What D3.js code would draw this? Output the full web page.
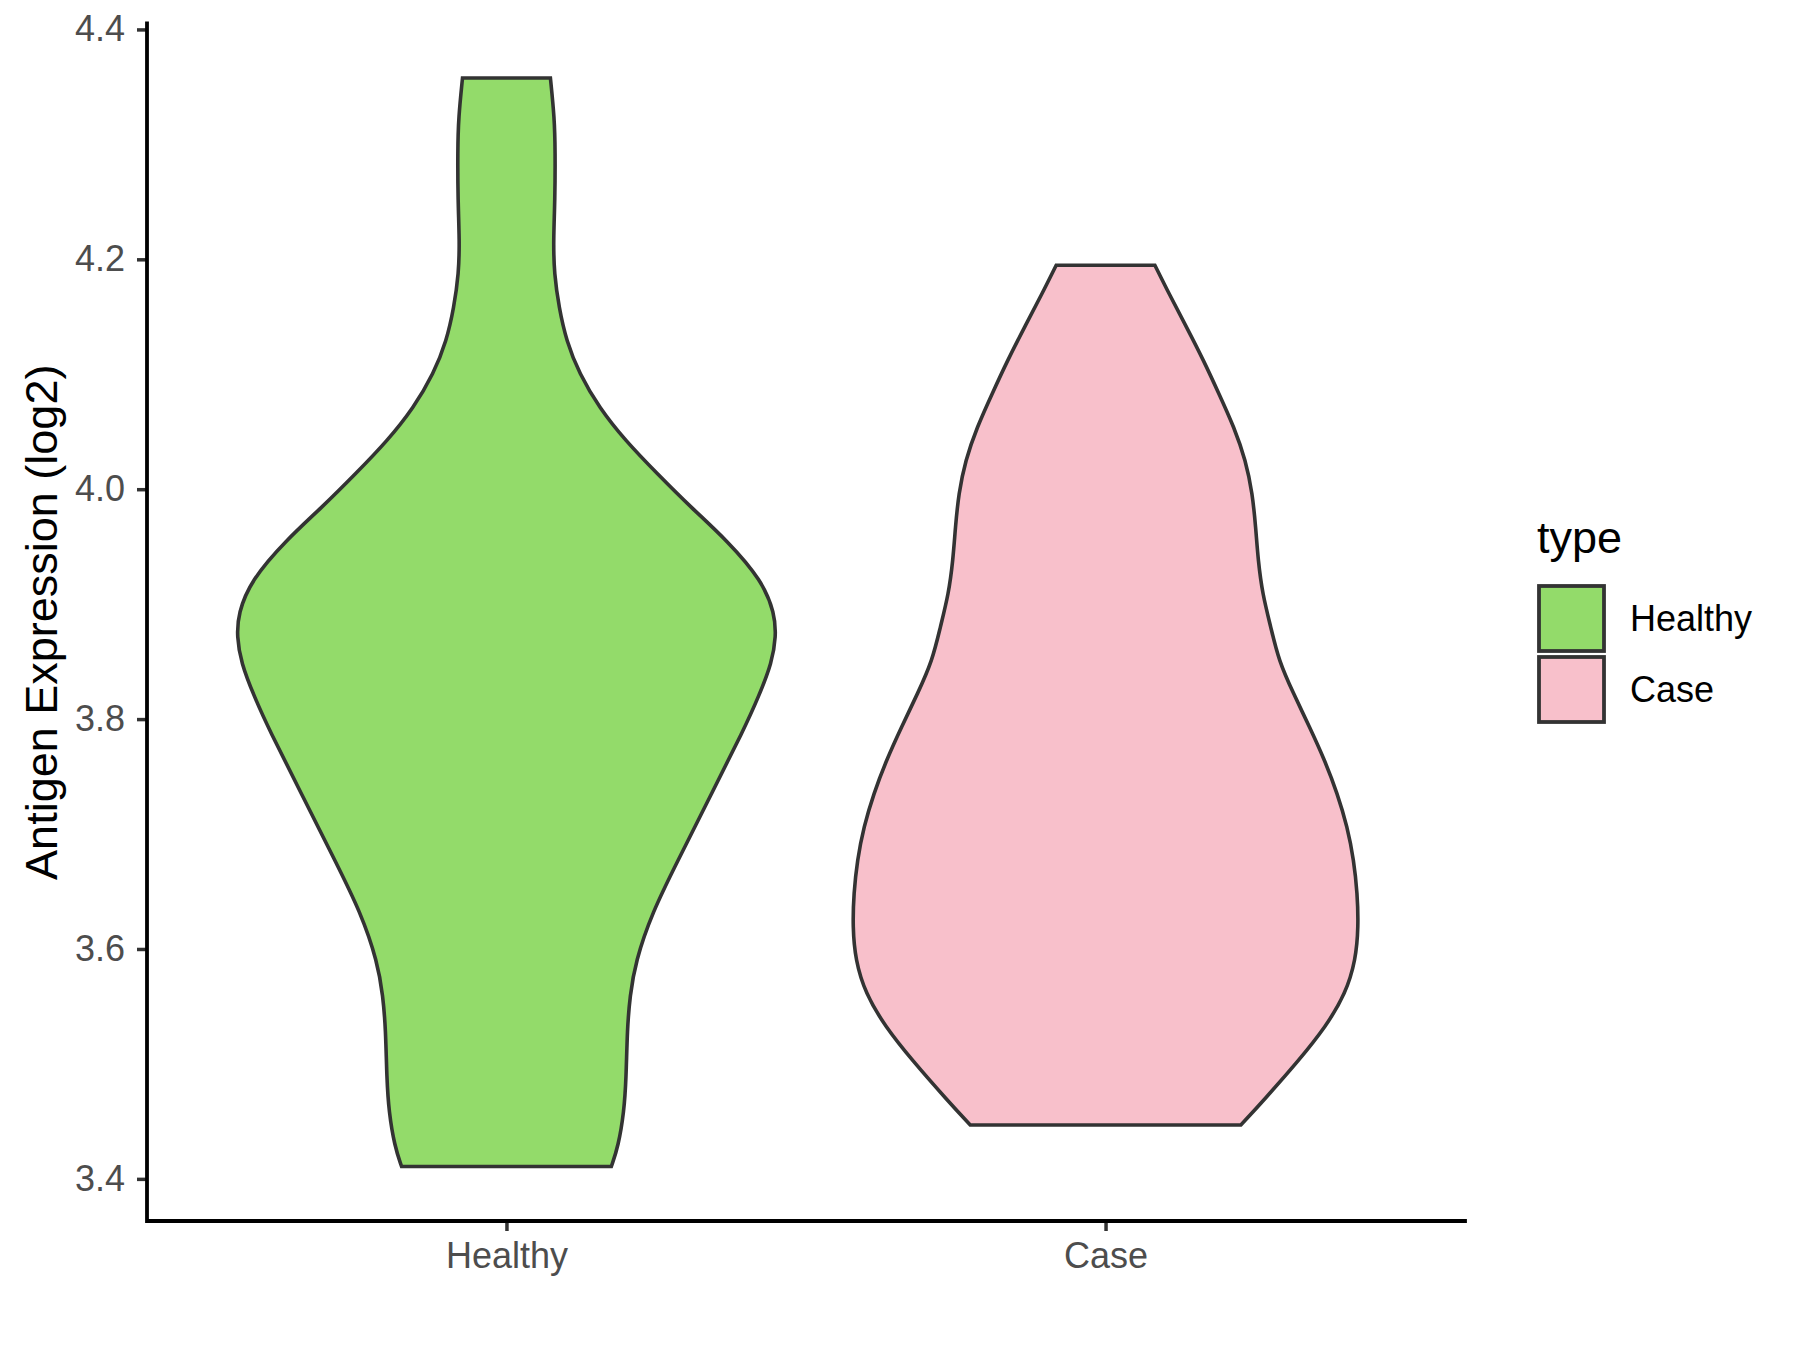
<!DOCTYPE html>
<meta charset="utf-8">
<style>
  body { margin: 0; background: #fff; }
  text { font-family: "Liberation Sans", Arial, sans-serif; }
</style>
<body>
<script src="https://cdn.jsdelivr.net/npm/d3@7"></script>
<script>

// categories and colours
var categories = ["Healthy", "Case"];
var fills = ["#93DB6A", "#F8C0CB"];

// violin outlines: value and scaled half width (1 = widest)
var healthyValues  = [4.3578, 4.3231, 4.2944, 4.2509, 4.2162, 4.1875, 4.1579, 4.1292, 4.1006, 4.0710,
                      4.0423, 4.0136, 3.9841, 3.9554, 3.9206, 3.8919, 3.8720, 3.8494, 3.8198, 3.7911,
                      3.7329, 3.6755, 3.6320, 3.5886, 3.5590, 3.5303, 3.4869, 3.4582, 3.4286, 3.4107];
var healthyDensity = [0.163, 0.178, 0.181, 0.180, 0.174, 0.177, 0.195, 0.222, 0.270, 0.344,
                      0.441, 0.559, 0.685, 0.819, 0.948, 0.995, 1.000, 0.985, 0.936, 0.881,
                      0.756, 0.633, 0.541, 0.478, 0.458, 0.448, 0.444, 0.436, 0.415, 0.389];

var caseValues  = [4.1949, 4.1698, 4.1408, 4.1119, 4.0829, 4.0539, 4.0249, 3.9960, 3.9670, 3.9380,
                   3.9091, 3.8800, 3.8511, 3.8222, 3.7931, 3.7642, 3.7352, 3.7062, 3.6773, 3.6483,
                   3.6193, 3.5904, 3.5614, 3.5324, 3.5034, 3.4687, 3.4469];
var caseDensity = [0.183, 0.236, 0.301, 0.364, 0.421, 0.477, 0.520, 0.545, 0.557, 0.566,
                   0.582, 0.613, 0.642, 0.697, 0.757, 0.813, 0.860, 0.897, 0.921, 0.934,
                   0.938, 0.928, 0.891, 0.817, 0.718, 0.588, 0.502];

var yTicks = [3.4, 3.6, 3.8, 4.0, 4.2, 4.4];

var W = 1800, H = 1350;
var margin = {left: 147, right: 1465, top: 23.5, bottom: 1221};

var svg = d3.select("body").append("svg")
    .attr("width", W)
    .attr("height", H);

var series = [
  {name: "Healthy", values: healthyValues, density: healthyDensity},
  {name: "Case", values: caseValues, density: caseDensity}
];

// y domain = data range with 5% expansion (ggplot default)
var allVals = healthyValues.concat(caseValues);
var lo = d3.min(allVals), hi = d3.max(allVals), pad = (hi - lo) * 0.05;
var y = d3.scaleLinear().domain([lo - pad, hi + pad]).range([margin.bottom, margin.top]);

var x = d3.scalePoint().domain(categories).range([margin.left, margin.right]).padding(0.6);
var color = d3.scaleOrdinal().domain(categories).range(fills);
var halfMax = x.step() * 0.45;

// violins
series.forEach(function(s) {
  var pts = s.values.map(function(v, i) { return {v: v, w: s.density[i]}; });
  var cx = x(s.name);
  var area = d3.area()
      .y(function(d) { return y(d.v); })
      .x0(function(d) { return cx - d.w * halfMax; })
      .x1(function(d) { return cx + d.w * halfMax; })
      .curve(d3.curveBasis);
  svg.append("path")
      .datum(pts)
      .attr("d", area)
      .style("fill", color(s.name))
      .style("stroke", "#333333")
      .style("stroke-width", 3.6)
      .style("stroke-linejoin", "miter");
});

// y axis
var yAxis = svg.append("g")
    .attr("transform", "translate(" + margin.left + ",0)")
    .call(d3.axisLeft(y).tickValues(yTicks).tickFormat(d3.format(".1f")).tickSize(10).tickPadding(12));
yAxis.select(".domain").remove();
yAxis.selectAll(".tick line").style("stroke", "#333333").style("stroke-width", 3.5);
yAxis.selectAll(".tick text").style("fill", "#4D4D4D").style("font-size", "36px")
    .style("font-family", "Liberation Sans, Arial, sans-serif");

// x axis
var xAxis = svg.append("g")
    .attr("transform", "translate(0," + margin.bottom + ")")
    .call(d3.axisBottom(x).tickSize(10).tickPadding(11));
xAxis.select(".domain").remove();
xAxis.selectAll(".tick line").style("stroke", "#333333").style("stroke-width", 3.5);
xAxis.selectAll(".tick text").style("fill", "#4D4D4D").style("font-size", "36px")
    .style("font-family", "Liberation Sans, Arial, sans-serif");

// axis lines
svg.append("path")
    .attr("d", "M" + margin.left + "," + margin.top + "V" + margin.bottom + "H" + margin.right)
    .style("fill", "none")
    .style("stroke", "#000")
    .style("stroke-width", 3.8)
    .style("stroke-linecap", "square");

// y title
svg.append("text")
    .attr("transform", "translate(57," + ((margin.top + margin.bottom) / 2) + ") rotate(-90)")
    .style("text-anchor", "middle")
    .style("font-size", "45px")
    .style("fill", "#000")
    .text("Antigen Expression (log2)");

// legend
var legend = svg.append("g");
legend.append("text")
    .attr("x", 1537)
    .attr("y", 553)
    .style("font-size", "45px")
    .text("type");

categories.forEach(function(c, i) {
  legend.append("rect")
      .attr("x", 1539)
      .attr("y", 586 + i * 71)
      .attr("width", 65)
      .attr("height", 65)
      .style("fill", color(c))
      .style("stroke", "#333333")
      .style("stroke-width", 3.8);
  legend.append("text")
      .attr("x", 1630)
      .attr("y", 618.5 + i * 71)
      .attr("dy", "0.36em")
      .style("font-size", "36px")
      .text(c);
});

</script>
</body>
